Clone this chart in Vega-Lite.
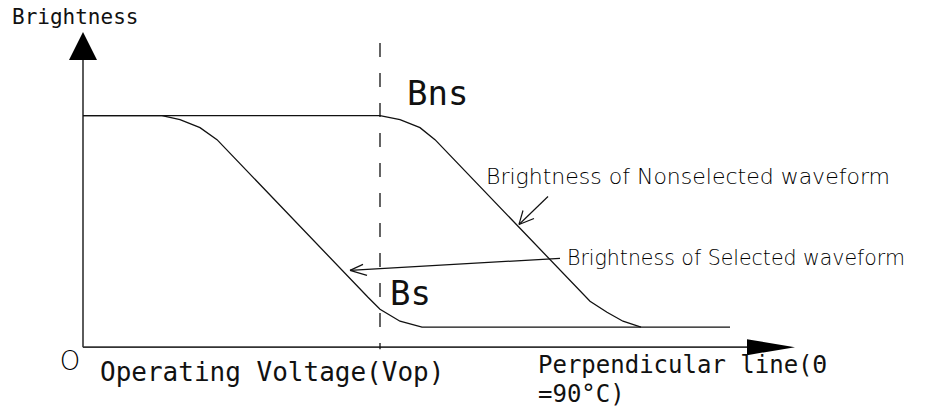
{
  "$schema": "https://vega.github.io/schema/vega-lite/v6.json",
  "width": 952,
  "height": 407,
  "padding": 0,
  "autosize": {"type": "fit", "contains": "padding"},
  "background": "white",
  "config": {"view": {"stroke": null}},
  "datasets": {
    "curves": [
      {"series": "Selected", "ord": 1, "x": 0, "y": 232},
      {"series": "Selected", "ord": 2, "x": 79, "y": 232},
      {"series": "Selected", "ord": 3, "x": 97, "y": 228},
      {"series": "Selected", "ord": 4, "x": 117, "y": 220},
      {"series": "Selected", "ord": 5, "x": 134, "y": 208},
      {"series": "Selected", "ord": 6, "x": 285, "y": 50},
      {"series": "Selected", "ord": 7, "x": 297, "y": 38},
      {"series": "Selected", "ord": 8, "x": 317, "y": 26},
      {"series": "Selected", "ord": 9, "x": 339, "y": 20},
      {"series": "Selected", "ord": 10, "x": 647, "y": 20},
      {"series": "Nonselected", "ord": 1, "x": 0, "y": 232},
      {"series": "Nonselected", "ord": 2, "x": 297, "y": 232},
      {"series": "Nonselected", "ord": 3, "x": 317, "y": 228},
      {"series": "Nonselected", "ord": 4, "x": 337, "y": 220},
      {"series": "Nonselected", "ord": 5, "x": 352, "y": 208},
      {"series": "Nonselected", "ord": 6, "x": 507, "y": 46},
      {"series": "Nonselected", "ord": 7, "x": 524, "y": 35},
      {"series": "Nonselected", "ord": 8, "x": 540, "y": 26},
      {"series": "Nonselected", "ord": 9, "x": 558, "y": 20}
    ],
    "axes": [
      {"id": "yaxis", "x": 0, "y": 0, "x2": 0, "y2": 288},
      {"id": "xaxis", "x": 0, "y": 0, "x2": 664, "y2": 0}
    ],
    "segments": [
      {"id": "sel-line", "x": 477, "y": 89, "x2": 267, "y2": 77},
      {"id": "sel-head1", "x": 267, "y": 77, "x2": 280, "y2": 83},
      {"id": "sel-head2", "x": 267, "y": 77, "x2": 284, "y2": 72},
      {"id": "ns-line", "x": 465, "y": 151, "x2": 436, "y2": 123},
      {"id": "ns-head1", "x": 436, "y": 123, "x2": 440, "y2": 137},
      {"id": "ns-head2", "x": 436, "y": 123, "x2": 451, "y2": 129}
    ],
    "vop": [
      {"id": "Vop", "x": 297, "y": 305, "x2": 297, "y2": -2}
    ],
    "heads": [
      {"id": "up", "x": 0, "y": 302},
      {"id": "right", "x": 688, "y": 0}
    ],
    "texts": [
      {"id": "ylab", "label": "Brightness", "x": -71, "y": 324},
      {"id": "bns", "label": "Bns", "x": 324, "y": 243},
      {"id": "bs", "label": "Bs", "x": 307, "y": 42},
      {"id": "ns", "label": "Brightness of Nonselected waveform", "x": 403, "y": 164},
      {"id": "sel", "label": "Brightness of Selected waveform", "x": 484, "y": 82},
      {"id": "origin", "label": "O", "x": -13, "y": -15},
      {"id": "op", "label": "Operating Voltage(Vop)", "x": 17, "y": -34},
      {"id": "perp1", "label": "Perpendicular line(Θ", "x": 455, "y": -26},
      {"id": "perp2", "label": "=90°C)", "x": 455, "y": -55}
    ]
  },
  "layer": [
    {
      "data": {"name": "axes"},
      "mark": {"type": "rule", "color": "#333", "strokeWidth": 1.6},
      "encoding": {
        "x": {"field": "x", "type": "quantitative", "scale": {"domain": [-83, 869], "nice": false, "zero": false}, "axis": null},
        "y": {"field": "y", "type": "quantitative", "scale": {"domain": [-59, 348], "nice": false, "zero": false}, "axis": null},
        "x2": {"field": "x2"},
        "y2": {"field": "y2"}
      }
    },
    {
      "data": {"name": "heads"},
      "transform": [{"filter": "datum.id == 'up'"}],
      "mark": {"type": "point", "shape": "M0,-1L1,1L-1,1Z", "size": 784, "filled": true, "color": "black", "opacity": 1},
      "encoding": {
        "x": {"field": "x", "type": "quantitative", "scale": {"domain": [-83, 869], "nice": false, "zero": false}, "axis": null},
        "y": {"field": "y", "type": "quantitative", "scale": {"domain": [-59, 348], "nice": false, "zero": false}, "axis": null}
      }
    },
    {
      "data": {"name": "heads"},
      "transform": [{"filter": "datum.id == 'right'"}],
      "mark": {"type": "point", "shape": "M1,0L-1,-0.333L-1,0.333Z", "size": 2304, "filled": true, "color": "black", "opacity": 1},
      "encoding": {
        "x": {"field": "x", "type": "quantitative", "scale": {"domain": [-83, 869], "nice": false, "zero": false}, "axis": null},
        "y": {"field": "y", "type": "quantitative", "scale": {"domain": [-59, 348], "nice": false, "zero": false}, "axis": null}
      }
    },
    {
      "data": {"name": "vop"},
      "mark": {"type": "rule", "color": "#111", "strokeWidth": 1.3, "strokeDash": [14, 16]},
      "encoding": {
        "x": {"field": "x", "type": "quantitative", "scale": {"domain": [-83, 869], "nice": false, "zero": false}, "axis": null},
        "y": {"field": "y", "type": "quantitative", "scale": {"domain": [-59, 348], "nice": false, "zero": false}, "axis": null},
        "x2": {"field": "x2"},
        "y2": {"field": "y2"}
      }
    },
    {
      "data": {"name": "curves"},
      "mark": {"type": "line", "color": "#111", "strokeWidth": 1.3},
      "encoding": {
        "x": {"field": "x", "type": "quantitative", "scale": {"domain": [-83, 869], "nice": false, "zero": false}, "axis": null},
        "y": {"field": "y", "type": "quantitative", "scale": {"domain": [-59, 348], "nice": false, "zero": false}, "axis": null},
        "detail": {"field": "series", "type": "nominal"},
        "order": {"field": "ord", "type": "quantitative"}
      }
    },
    {
      "data": {"name": "segments"},
      "mark": {"type": "rule", "color": "#111", "strokeWidth": 1.2},
      "encoding": {
        "x": {"field": "x", "type": "quantitative", "scale": {"domain": [-83, 869], "nice": false, "zero": false}, "axis": null},
        "y": {"field": "y", "type": "quantitative", "scale": {"domain": [-59, 348], "nice": false, "zero": false}, "axis": null},
        "x2": {"field": "x2"},
        "y2": {"field": "y2"}
      }
    },
    {
      "data": {"name": "texts"},
      "transform": [{"filter": "datum.id == 'ylab'"}],
      "mark": {"type": "text", "align": "left", "baseline": "alphabetic", "font": "DejaVu Sans Mono", "fontSize": 21, "color": "#111"},
      "encoding": {
        "x": {"field": "x", "type": "quantitative", "scale": {"domain": [-83, 869], "nice": false, "zero": false}, "axis": null},
        "y": {"field": "y", "type": "quantitative", "scale": {"domain": [-59, 348], "nice": false, "zero": false}, "axis": null},
        "text": {"field": "label"}
      }
    },
    {
      "data": {"name": "texts"},
      "transform": [{"filter": "datum.id == 'bns' || datum.id == 'bs'"}],
      "mark": {"type": "text", "align": "left", "baseline": "alphabetic", "font": "DejaVu Sans Mono", "fontSize": 34, "color": "#111"},
      "encoding": {
        "x": {"field": "x", "type": "quantitative", "scale": {"domain": [-83, 869], "nice": false, "zero": false}, "axis": null},
        "y": {"field": "y", "type": "quantitative", "scale": {"domain": [-59, 348], "nice": false, "zero": false}, "axis": null},
        "text": {"field": "label"}
      }
    },
    {
      "data": {"name": "texts"},
      "transform": [{"filter": "datum.id == 'ns'"}],
      "mark": {"type": "text", "align": "left", "baseline": "alphabetic", "font": "DejaVu Sans", "fontWeight": 200, "fontSize": 22, "color": "#000"},
      "encoding": {
        "x": {"field": "x", "type": "quantitative", "scale": {"domain": [-83, 869], "nice": false, "zero": false}, "axis": null},
        "y": {"field": "y", "type": "quantitative", "scale": {"domain": [-59, 348], "nice": false, "zero": false}, "axis": null},
        "text": {"field": "label"}
      }
    },
    {
      "data": {"name": "texts"},
      "transform": [{"filter": "datum.id == 'sel'"}],
      "mark": {"type": "text", "align": "left", "baseline": "alphabetic", "font": "DejaVu Sans", "fontWeight": 200, "fontSize": 20.5, "color": "#000"},
      "encoding": {
        "x": {"field": "x", "type": "quantitative", "scale": {"domain": [-83, 869], "nice": false, "zero": false}, "axis": null},
        "y": {"field": "y", "type": "quantitative", "scale": {"domain": [-59, 348], "nice": false, "zero": false}, "axis": null},
        "text": {"field": "label"}
      }
    },
    {
      "data": {"name": "texts"},
      "transform": [{"filter": "datum.id == 'origin'"}],
      "mark": {"type": "text", "align": "center", "baseline": "middle", "font": "DejaVu Sans", "fontWeight": 200, "fontSize": 26, "color": "#000"},
      "encoding": {
        "x": {"field": "x", "type": "quantitative", "scale": {"domain": [-83, 869], "nice": false, "zero": false}, "axis": null},
        "y": {"field": "y", "type": "quantitative", "scale": {"domain": [-59, 348], "nice": false, "zero": false}, "axis": null},
        "text": {"field": "label"}
      }
    },
    {
      "data": {"name": "texts"},
      "transform": [{"filter": "datum.id == 'op'"}],
      "mark": {"type": "text", "align": "left", "baseline": "alphabetic", "font": "DejaVu Sans Mono", "fontSize": 26, "color": "#111"},
      "encoding": {
        "x": {"field": "x", "type": "quantitative", "scale": {"domain": [-83, 869], "nice": false, "zero": false}, "axis": null},
        "y": {"field": "y", "type": "quantitative", "scale": {"domain": [-59, 348], "nice": false, "zero": false}, "axis": null},
        "text": {"field": "label"}
      }
    },
    {
      "data": {"name": "texts"},
      "transform": [{"filter": "datum.id == 'perp1' || datum.id == 'perp2'"}],
      "mark": {"type": "text", "align": "left", "baseline": "alphabetic", "font": "DejaVu Sans Mono", "fontSize": 24, "color": "#111"},
      "encoding": {
        "x": {"field": "x", "type": "quantitative", "scale": {"domain": [-83, 869], "nice": false, "zero": false}, "axis": null},
        "y": {"field": "y", "type": "quantitative", "scale": {"domain": [-59, 348], "nice": false, "zero": false}, "axis": null},
        "text": {"field": "label"}
      }
    }
  ]
}
